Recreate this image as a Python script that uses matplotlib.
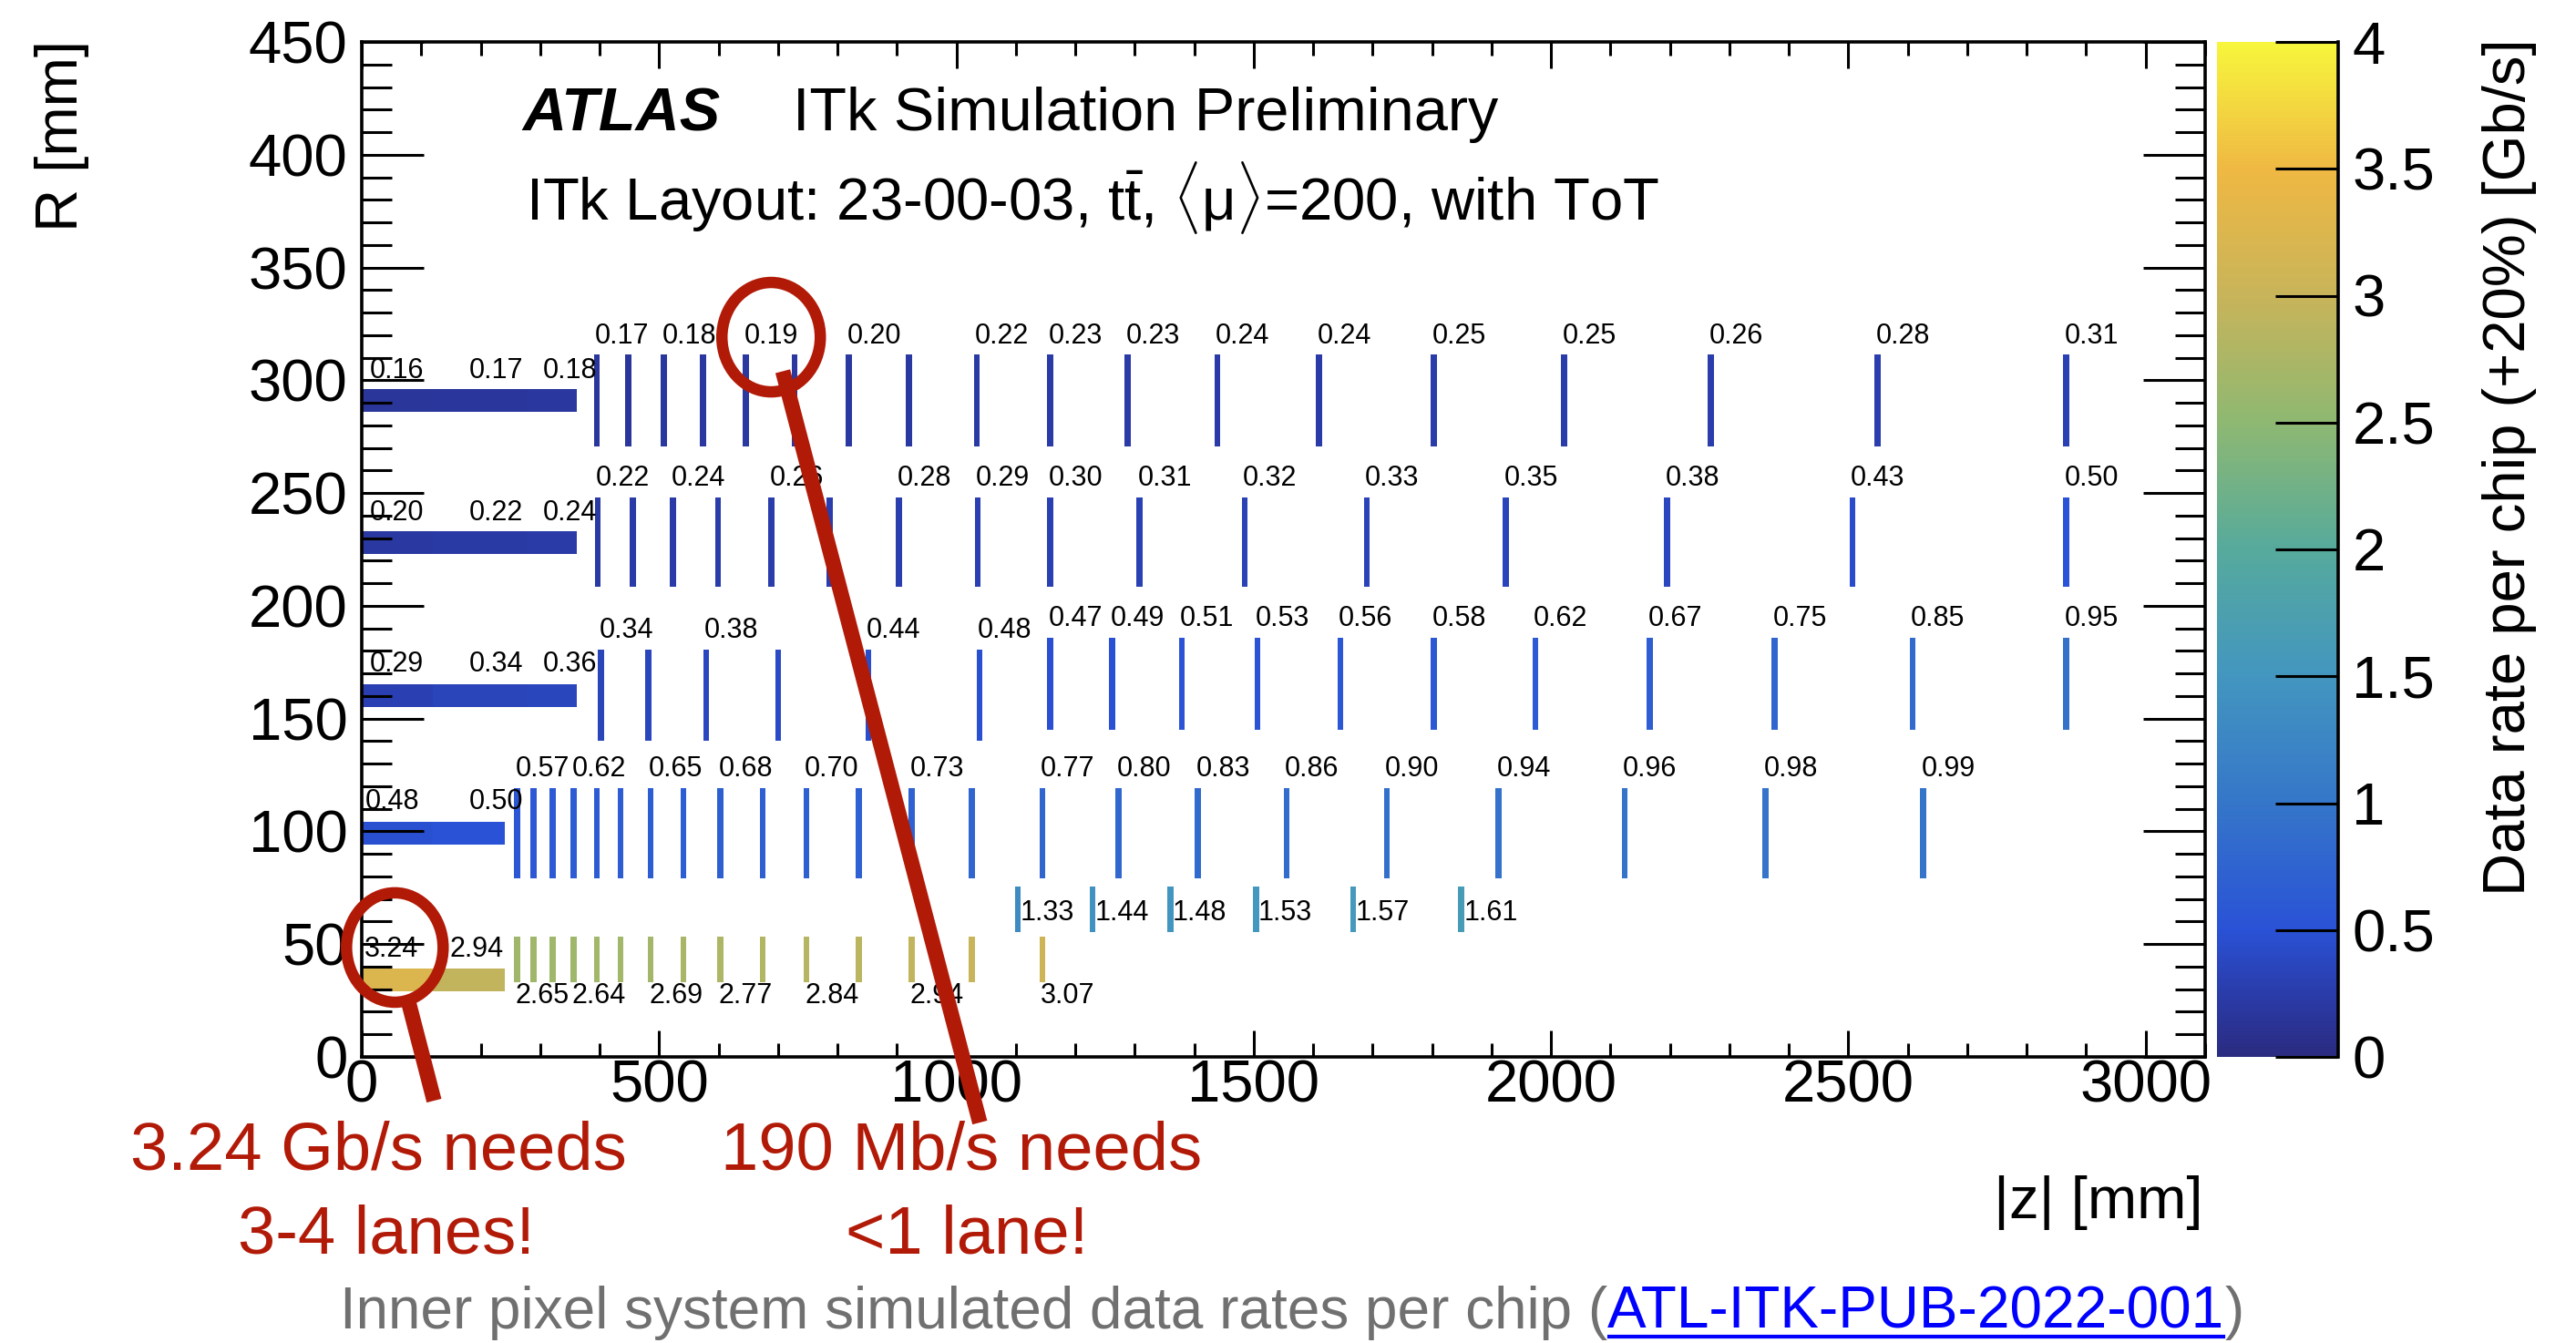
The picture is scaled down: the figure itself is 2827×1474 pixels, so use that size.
import numpy as np
import matplotlib
matplotlib.use("Agg")
import matplotlib.pyplot as plt
from matplotlib.colors import LinearSegmentedColormap, Normalize
from matplotlib.patches import Rectangle, Ellipse
from matplotlib.cm import ScalarMappable
from matplotlib.lines import Line2D
from matplotlib.ticker import MultipleLocator

plt.rcParams['font.family'] = ['Liberation Sans', 'DejaVu Sans']
plt.rcParams['mathtext.fontset'] = 'custom'
plt.rcParams['mathtext.rm'] = 'Liberation Sans'
plt.rcParams['mathtext.it'] = 'Liberation Sans:italic'

W, H = 2827, 1474
RED = '#B21A08'

# bird-like palette, as it appears in the picture (value in Gb/s -> colour)
pal_vals = [0.0, 0.25, 0.5, 1.0, 1.5, 2.0, 2.5, 3.0, 3.5, 4.0]
pal_cols = ['#2B2B80', '#2A3CAA', '#2A52D6', '#3576C9', '#4396BF', '#56AA9C',
            '#8EB872', '#C8B45A', '#EFB843', '#F7F63C']

# ---- barrel layers (flat staves), rate per |z| segment
barrel_r = [(29.0, 39.3), (94.2, 104.3), (155.1, 165.3), (223.0, 233.1), (285.9, 296.2)]
barrel_edges = [[0, 120, 241], [0, 120, 241], [0, 120, 278, 362],
                [0, 120, 278, 362], [0, 120, 278, 362]]
barrel_rates = [[3.24, 2.94], [0.48, 0.50], [0.29, 0.34, 0.36],
                [0.20, 0.22, 0.24], [0.16, 0.17, 0.18]]
barrel_label_z = [[7, 150], [7, 183], [16, 183, 306], [16, 183, 306], [16, 183, 306]]
barrel_label_r = [44.4, 109.9, 170.9, 238.0, 300.9]

# ---- rings: |z| position, rate, which rings carry a printed value
l0_z = [261, 289, 321, 356, 395, 435, 486, 541, 603, 674, 748, 836, 925, 1026, 1145]
l0_rate = [2.65, 2.65, 2.64, 2.64, 2.66, 2.67, 2.69, 2.73, 2.77, 2.80, 2.84, 2.89, 2.94, 3.00, 3.07]
l0_shown = [0, 3, 6, 8, 10, 12, 14]

mid_z = [1103, 1229, 1360, 1504, 1667, 1849]
mid_rate = [1.33, 1.44, 1.48, 1.53, 1.57, 1.61]
mid_shown = [0, 1, 2, 3, 4, 5]

l1_z = [261, 289, 321, 356, 395, 435, 486, 541, 603, 674, 748, 836, 925, 1026, 1145,
        1273, 1406, 1555, 1724, 1912, 2124, 2361, 2626]
l1_rate = [0.57, 0.59, 0.60, 0.62, 0.63, 0.64, 0.65, 0.66, 0.68, 0.69, 0.70, 0.71, 0.73,
           0.75, 0.77, 0.80, 0.83, 0.86, 0.90, 0.94, 0.96, 0.98, 0.99]
l1_shown = [0, 3, 6, 8, 10, 12, 14, 15, 16, 17, 18, 19, 20, 21, 22]

l2a_z = [402, 482, 579, 700, 852, 1039]
l2a_rate = [0.34, 0.36, 0.38, 0.41, 0.44, 0.48]
l2a_shown = [0, 2, 4, 5]

l2b_z = [1158, 1262, 1379, 1506, 1646, 1803, 1974, 2166, 2376, 2608, 2866]
l2b_rate = [0.47, 0.49, 0.51, 0.53, 0.56, 0.58, 0.62, 0.67, 0.75, 0.85, 0.95]
l2b_shown = list(range(11))

l3_z = [397, 456, 523, 599, 689, 787, 903, 1036, 1158, 1308, 1485, 1690, 1924, 2195, 2507, 2866]
l3_rate = [0.22, 0.23, 0.24, 0.25, 0.26, 0.27, 0.28, 0.29, 0.30, 0.31, 0.32, 0.33,
           0.35, 0.38, 0.43, 0.50]
l3_shown = [0, 2, 4, 6, 7, 8, 9, 10, 11, 12, 13, 14, 15]

l4_z = [395, 448, 508, 574, 646, 728, 819, 920, 1034, 1158, 1288, 1439, 1610, 1803,
        2022, 2269, 2549, 2866]
l4_rate = [0.17, 0.17, 0.18, 0.18, 0.19, 0.19, 0.20, 0.21, 0.22, 0.23, 0.23, 0.24, 0.24,
           0.25, 0.25, 0.26, 0.28, 0.31]
l4_shown = [0, 2, 4, 6, 8, 9, 10, 11, 12, 13, 14, 15, 16, 17]

# (z, rate, shown, R low, R high, label R, label side)
ring_groups = [
    (l0_z, l0_rate, l0_shown, 33.2, 53.3, 24.0, 'below'),
    (mid_z, mid_rate, mid_shown, 55.3, 75.5, 60.6, 'right'),
    (l1_z, l1_rate, l1_shown, 79.2, 119.2, 124.5, 'above'),
    (l2a_z, l2a_rate, l2a_shown, 140.0, 180.4, 185.8, 'above'),
    (l2b_z, l2b_rate, l2b_shown, 145.1, 185.8, 191.2, 'above'),
    (l3_z, l3_rate, l3_shown, 208.4, 248.1, 253.3, 'above'),
    (l4_z, l4_rate, l4_shown, 270.6, 311.4, 316.3, 'above'),
]
RING_W = 10.0

cmap = LinearSegmentedColormap.from_list(
    'bird', [(v / 4.0, c) for v, c in zip(pal_vals, pal_cols)], N=512)
norm = Normalize(0, 4)

fig = plt.figure(figsize=(W / 100, H / 100), dpi=100)
ax = fig.add_axes([397 / W, 1 - 1160 / H, (2420 - 397) / W, (1160 - 46) / H])
cax = fig.add_axes([2433 / W, 1 - 1160 / H, (2566 - 2433) / W, (1160 - 46) / H])

ax.set_xlim(0, 3100)
ax.set_ylim(0, 450)

# barrel staves
for (rlo, rhi), edges, rates, lz, lr in zip(barrel_r, barrel_edges, barrel_rates,
                                            barrel_label_z, barrel_label_r):
    for i, v in enumerate(rates):
        ax.add_patch(Rectangle((edges[i], rlo), edges[i + 1] - edges[i], rhi - rlo,
                               facecolor=cmap(norm(v)), edgecolor='none', zorder=1))
    for z, v in zip(lz, rates):
        ax.text(z - 2, lr, f'{v:.2f}', fontsize=22, ha='left', va='baseline', zorder=3)

# endcap rings
for zs, rates, shown, rlo, rhi, lr, side in ring_groups:
    for z, v in zip(zs, rates):
        ax.add_patch(Rectangle((z - RING_W / 2, rlo), RING_W, rhi - rlo,
                               facecolor=cmap(norm(v)), edgecolor='none', zorder=1))
    for i in shown:
        dx = 4 if side == 'right' else -3
        ax.text(zs[i] + dx, lr, f'{rates[i]:.2f}', fontsize=22, ha='left',
                va='baseline', zorder=3)

# axes styling (ROOT like)
for sp in ax.spines.values():
    sp.set_linewidth(2.6)
ax.xaxis.set_major_locator(MultipleLocator(500))
ax.xaxis.set_minor_locator(MultipleLocator(100))
ax.yaxis.set_major_locator(MultipleLocator(50))
ax.yaxis.set_minor_locator(MultipleLocator(10))
ax.tick_params(axis='x', which='major', direction='in', length=21, width=2.2,
               top=True, labelsize=47, pad=2)
ax.tick_params(axis='x', which='minor', direction='in', length=10.5, width=2.2, top=True)
ax.tick_params(axis='y', which='major', direction='in', length=49, width=2.2,
               right=True, labelsize=47, pad=11)
ax.tick_params(axis='y', which='minor', direction='in', length=24, width=2.2, right=True)

# colour bar
sm = ScalarMappable(norm=norm, cmap=cmap)
cbar = fig.colorbar(sm, cax=cax)
cbar.outline.set_visible(False)
cbar.set_ticks(np.arange(0, 4.01, 0.5))
cbar.set_ticklabels(['0', '0.5', '1', '1.5', '2', '2.5', '3', '3.5', '4'])
cbar.minorticks_off()
cax.tick_params(direction='in', length=49.7, width=2.2, labelsize=47, pad=11,
                right=True, left=False)
cax.plot([1, 1], [0, 1], transform=cax.transAxes, color='black', lw=2.6, clip_on=False)

# axis titles
fig.text(2418 / W, 1 - 1337 / H, '|z| [mm]', fontsize=47, ha='right', va='baseline')
fig.text(68 / W, 1 - 44 / H, 'R [mm]', fontsize=47, rotation=90, ha='center', va='top')
fig.text(2754 / W, 1 - 42 / H, 'Data rate per chip (+20%) [Gb/s]', fontsize=47,
         rotation=90, ha='center', va='top')

# ATLAS label
fig.text(573 / W, 1 - 143 / H, 'ATLAS', fontsize=48, weight='bold', style='italic',
         va='baseline')
fig.text(870 / W, 1 - 143 / H, 'ITk Simulation Preliminary', fontsize=48, va='baseline')
fig.text(577 / W, 1 - 242 / H,
         r'ITk Layout: 23-00-03, $\mathrm{t\bar{t}}$, $\langle\mathrm{\mu}\rangle$=200, with ToT',
         fontsize=47, va='baseline')

# red highlights
ax.add_patch(Ellipse((688.4, 319.1), 165.5, 48.5, fill=False, edgecolor=RED, lw=9,
                     clip_on=False, zorder=6))
ax.add_patch(Ellipse((55.6, 48.5), 162.4, 48.5, fill=False, edgecolor=RED, lw=9,
                     clip_on=False, zorder=6))
ax.plot([708, 1039.4], [304, -29.1], color=RED, lw=12, solid_capstyle='butt',
        clip_on=False, zorder=6)
ax.plot([77, 121.6], [26, -19.4], color=RED, lw=12, solid_capstyle='butt',
        clip_on=False, zorder=6)

fig.text(415 / W, 1 - 1283 / H, '3.24 Gb/s needs', color=RED, fontsize=53.5,
         ha='center', va='baseline')
fig.text(424 / W, 1 - 1376 / H, '3-4 lanes!', color=RED, fontsize=53.5,
         ha='center', va='baseline')
fig.text(1055 / W, 1 - 1283 / H, '190 Mb/s needs', color=RED, fontsize=53.5,
         ha='center', va='baseline')
fig.text(1061 / W, 1 - 1376 / H, '<1 lane!', color=RED, fontsize=53.5,
         ha='center', va='baseline')

# caption with link-style reference
renderer = fig.canvas.get_renderer()
parts = [('Inner pixel system simulated data rates per chip (', '#707070'),
         ('ATL-ITK-PUB-2022-001', '#0000FF'),
         (')', '#707070')]
cap_texts = [fig.text(0, 1 - 1458 / H, s, color=c, fontsize=46, va='baseline')
             for s, c in parts]
widths = [t.get_window_extent(renderer).width for t in cap_texts]
x = 1418 - sum(widths) / 2
for t, w in zip(cap_texts, widths):
    t.set_x(x / W)
    if t.get_color() == '#0000FF':
        fig.add_artist(Line2D([(x + 2) / W, (x + w - 2) / W], [1 - 1467 / H] * 2,
                              transform=fig.transFigure, color='#0000FF', lw=3))
    x += w

fig.savefig('out.png', dpi=100)
